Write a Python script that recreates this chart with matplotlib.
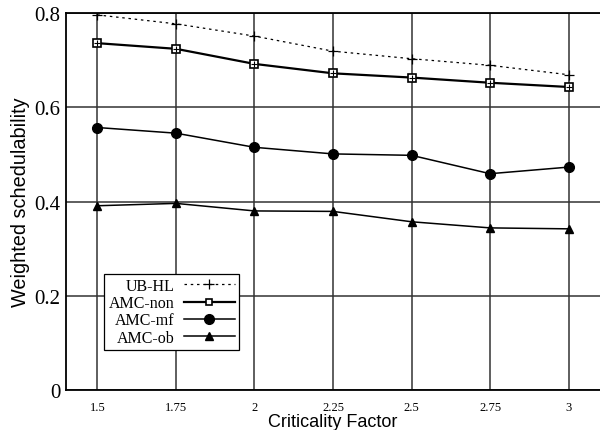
import matplotlib
matplotlib.use("Agg")
import matplotlib.pyplot as plt
from matplotlib.lines import Line2D

x = [1.5, 1.75, 2, 2.25, 2.5, 2.75, 3]
xticklabels = ["1.5", "1.75", "2", "2.25", "2.5", "2.75", "3"]
ub_hl = [0.796, 0.777, 0.751, 0.719, 0.703, 0.689, 0.669]
amc_non = [0.736, 0.724, 0.692, 0.672, 0.663, 0.652, 0.643]
amc_mf = [0.557, 0.545, 0.515, 0.501, 0.498, 0.459, 0.473]
amc_ob = [0.391, 0.396, 0.380, 0.379, 0.357, 0.344, 0.342]
yticks = [0, 0.2, 0.4, 0.6, 0.8]
yticklabels = ["0", "0.2", "0.4", "0.6", "0.8"]

fig = plt.figure(figsize=(6, 4.31), dpi=100)
ax = fig.add_axes([0.11, 0.0928, 0.89, 0.8747])

ax.plot(x, ub_hl, color="black", lw=0.9, ls=(0, (2, 3)), marker="+", ms=7, mew=0.9, label="UB-HL")
ax.plot(x, amc_non, color="black", lw=1.6, marker="s", ms=6, mfc="white", mew=1.2, label="AMC-non")
ax.plot(x, amc_non, color="black", lw=0, marker="+", ms=5, mew=0.8)
ax.plot(x, amc_mf, color="black", lw=1.1, marker="o", ms=7, label="AMC-mf")
ax.plot(x, amc_ob, color="black", lw=1.1, marker="^", ms=6, label="AMC-ob")

ax.set_xlim(1.40, 3.10)
ax.set_ylim(0, 0.8)
ax.set_xticks(x)
ax.set_xticklabels(xticklabels, fontfamily="Liberation Serif", fontsize=9)
ax.set_yticks(yticks)
ax.set_yticklabels(yticklabels, fontfamily="Liberation Serif", fontsize=15)
ax.tick_params(axis="x", direction="in", length=0, pad=8)
ax.tick_params(axis="y", direction="in", length=0, pad=4)
ax.grid(True, color="#333333", lw=1.1)
ax.set_axisbelow(True)
for s in ["left", "top", "bottom"]:
    ax.spines[s].set_linewidth(1.3)
ax.spines["right"].set_visible(False)

ax.set_xlabel("Criticality Factor", fontfamily="Liberation Sans", fontsize=13, labelpad=0)
ax.set_ylabel("Weighted schedulability", fontfamily="Liberation Sans", fontsize=14.3, labelpad=3)

handles = [
    Line2D([], [], color="black", lw=0.9, ls=(0, (2, 3)), marker="+", ms=7, mew=0.9),
    Line2D([], [], color="black", lw=1.6, marker="s", ms=5, mfc="white", mew=1.2),
    Line2D([], [], color="black", lw=1.1, marker="o", ms=7),
    Line2D([], [], color="black", lw=1.1, marker="^", ms=6),
]
leg = ax.legend(handles, ["UB-HL", "AMC-non", "AMC-mf", "AMC-ob"], loc="upper left",
                bbox_to_anchor=(0.072, 0.308), markerfirst=False, frameon=True,
                fancybox=False, edgecolor="black", framealpha=1,
                prop={"family": "Liberation Serif", "size": 11.5},
                handlelength=3.2, labelspacing=0.08, borderpad=0.25, handletextpad=0.6,
                borderaxespad=0)
leg.get_frame().set_linewidth(0.9)
leg._legend_box.align = "right"
for t in leg.get_texts():
    t.set_ha("right")

fig.savefig("out.png", dpi=100)
